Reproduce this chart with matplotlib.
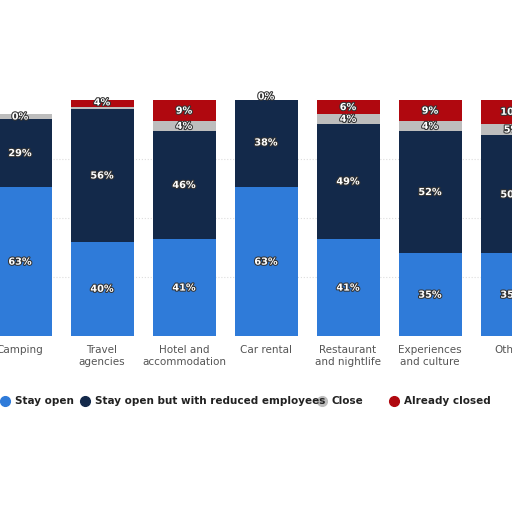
import matplotlib
matplotlib.use("Agg")
import matplotlib.pyplot as plt
import matplotlib.patheffects
from matplotlib.lines import Line2D

categories = ["Camping", "Travel\nagencies", "Hotel and\naccommodation", "Car rental",
              "Restaurant\nand nightlife", "Experiences\nand culture", "Others"]
stay_open = [63, 40, 41, 63, 41, 35, 35]
reduced = [29, 56, 46, 38, 49, 52, 50]
close = [2, 1, 4, 1, 4, 4, 5]
close_lbl = ["0%", "", "4%", "0%", "4%", "4%", "5%"]
already = [0, 4, 9, 0, 6, 9, 10]
series_names = ["Stay open", "Stay open but with reduced employees", "Close", "Already closed"]
colors = ["#2f7bd9", "#13294a", "#bdbdbd", "#b0080f"]

fig = plt.figure(figsize=(5.12, 5.12), dpi=100)
ax = fig.add_axes([0, 176/512, 1, 236/512])
x = list(range(len(categories)))
w = 63/82
bottom = [0]*len(x)
for vals, c in zip([stay_open, reduced, close, already], colors):
    ax.bar(x, vals, w, bottom=bottom, color=c)
    bottom = [b+v for b, v in zip(bottom, vals)]

def lab(i, y, t):
    ax.text(i, y, t, ha="center", va="center", color="white", fontsize=7, fontweight="bold",
            path_effects=[matplotlib.patheffects.withStroke(linewidth=1.5, foreground="#333333")])
for i in x:
    lab(i, stay_open[i]/2, f"{stay_open[i]}%")
    lab(i, stay_open[i]+reduced[i]/2, f"{reduced[i]}%")
    b = stay_open[i]+reduced[i]
    if close_lbl[i]:
        lab(i, b+close[i]/2, close_lbl[i])
    if already[i]:
        lab(i, b+close[i]+already[i]/2, f"{already[i]}%")
for yv in [25, 50, 75]:
    ax.axhline(yv, color="#dddddd", ls=":", lw=0.8, zorder=0)
ax.set_xlim(-20/82, 492/82)
ax.set_ylim(0, 100)
ax.axis("off")
for i, c in enumerate(categories):
    fig.text((20+82*i)/512, 1-345/512, c, ha="center", va="top", fontsize=7.5, color="#555555")
lx = [5, 85, 322, 394]
for xx, n, c in zip(lx, series_names, colors):
    fig.add_artist(Line2D([xx/512], [1-401/512], marker="o", color=c, markersize=7, transform=fig.transFigure))
    fig.text((xx+10)/512, 1-401/512, n, va="center", fontsize=7.5, color="#222222", fontweight="semibold")
fig.savefig("out.png", dpi=100, facecolor="white")
